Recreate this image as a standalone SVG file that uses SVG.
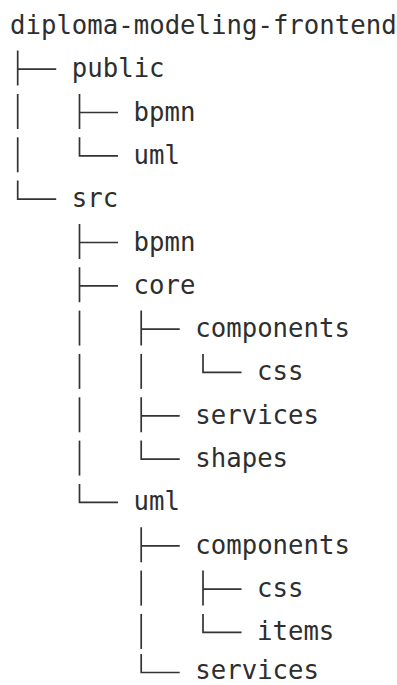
<svg xmlns="http://www.w3.org/2000/svg" xmlns:xlink="http://www.w3.org/1999/xlink" width="397" height="685" viewBox="0 0 397 685">
  <style>
    .name { font-family: "DejaVu Sans Mono", "Liberation Mono", monospace; font-size: 25.7px; fill: #2e2e2e; }
    .guide { fill: none; stroke: #333333; stroke-width: 1.7; stroke-linecap: butt; }
  </style>
  <defs>
    <!-- tree guides, origin at the row baseline / guide column -->
    <path id="tee" class="guide" d="M0,-26.5 V8.5 M0,-8 H38.5"/>
    <path id="elbow" class="guide" d="M0,-26.5 V-8 H38.5"/>
    <path id="bar" class="guide" d="M0,-26.5 V8.5"/>
  </defs>
  <rect width="397" height="685" fill="#ffffff"/>

  <g id="connectors">
    <!-- public -->
    <use xlink:href="#tee" x="17.7" y="77.1"/>
    <use xlink:href="#bar" x="17.7" y="120.5"/>
    <use xlink:href="#tee" x="79.5" y="120.5"/>
    <use xlink:href="#bar" x="17.7" y="163.8"/>
    <use xlink:href="#elbow" x="79.5" y="163.8"/>
    <!-- src -->
    <use xlink:href="#elbow" x="17.7" y="207.1"/>
    <use xlink:href="#tee" x="79.5" y="250.5"/>
    <use xlink:href="#tee" x="79.5" y="293.8"/>
    <use xlink:href="#bar" x="79.5" y="337.1"/>
    <use xlink:href="#tee" x="141.2" y="337.1"/>
    <use xlink:href="#bar" x="79.5" y="380.4"/>
    <use xlink:href="#bar" x="141.2" y="380.4"/>
    <use xlink:href="#elbow" x="203" y="380.4"/>
    <use xlink:href="#bar" x="79.5" y="423.8"/>
    <use xlink:href="#tee" x="141.2" y="423.8"/>
    <use xlink:href="#bar" x="79.5" y="467.1"/>
    <use xlink:href="#elbow" x="141.2" y="467.1"/>
    <use xlink:href="#elbow" x="79.5" y="510.4"/>
    <use xlink:href="#tee" x="141.2" y="553.8"/>
    <use xlink:href="#bar" x="141.2" y="597.1"/>
    <use xlink:href="#tee" x="203" y="597.1"/>
    <use xlink:href="#bar" x="141.2" y="640.4"/>
    <use xlink:href="#elbow" x="203" y="640.4"/>
    <use xlink:href="#elbow" x="141.2" y="680.5"/>
  </g>

  <g id="root"><text class="name" x="10" y="33.8">diploma-modeling-frontend</text></g>
  <g id="public"><text class="name" x="71.8" y="77.1">public</text></g>
  <g id="public-bpmn"><text class="name" x="133.5" y="120.5">bpmn</text></g>
  <g id="public-uml"><text class="name" x="133.5" y="163.8">uml</text></g>
  <g id="src"><text class="name" x="71.8" y="207.1">src</text></g>
  <g id="src-bpmn"><text class="name" x="133.5" y="250.5">bpmn</text></g>
  <g id="src-core"><text class="name" x="133.5" y="293.8">core</text></g>
  <g id="core-components"><text class="name" x="195.3" y="337.1">components</text></g>
  <g id="core-components-css"><text class="name" x="257" y="380.4">css</text></g>
  <g id="core-services"><text class="name" x="195.3" y="423.8">services</text></g>
  <g id="core-shapes"><text class="name" x="195.3" y="467.1">shapes</text></g>
  <g id="src-uml"><text class="name" x="133.5" y="510.4">uml</text></g>
  <g id="uml-components"><text class="name" x="195.3" y="553.8">components</text></g>
  <g id="uml-components-css"><text class="name" x="257" y="597.1">css</text></g>
  <g id="uml-components-items"><text class="name" x="257" y="640.4">items</text></g>
  <g id="uml-services"><text class="name" x="195.3" y="678.6">services</text></g>
</svg>
